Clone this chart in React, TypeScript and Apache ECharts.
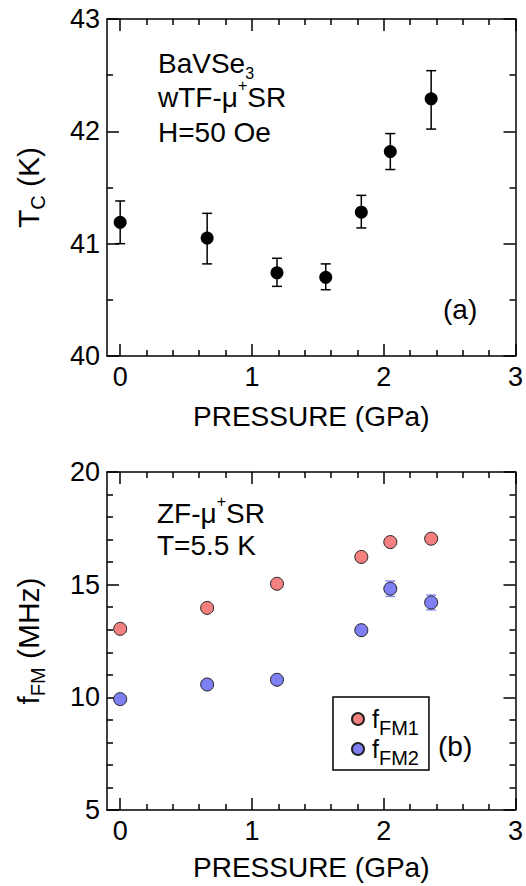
import React, { useEffect, useRef } from "react";
import * as echarts from "echarts";

// ---------- data ----------
const pressureTc = [0.0, 0.66, 1.19, 1.56, 1.83, 2.05, 2.36];
const tcValues = [41.19, 41.05, 40.74, 40.7, 41.28, 41.82, 42.29];
const tcErrLow = [41.0, 40.82, 40.62, 40.59, 41.14, 41.66, 42.02];
const tcErrHigh = [41.38, 41.27, 40.87, 40.82, 41.43, 41.98, 42.54];

const pressureFm = [0.0, 0.66, 1.19, 1.83, 2.05, 2.36];
const fm1Values = [13.04, 13.97, 15.04, 16.23, 16.89, 17.04];
const fm2Values = [9.92, 10.57, 10.78, 12.98, 14.82, 14.21];
const fm2ErrLow = [9.85, 10.5, 10.7, 12.9, 14.48, 13.88];
const fm2ErrHigh = [9.99, 10.64, 10.86, 13.06, 15.16, 14.54];

const xMajorTicks = [0, 1, 2, 3];
const xMinorTicks = [0.2, 0.4, 0.6, 0.8, 1.2, 1.4, 1.6, 1.8, 2.2, 2.4, 2.6, 2.8];

const FONT = '"Liberation Sans", Arial, Helvetica, sans-serif';
const BLACK = "#000";
const FM1_COLOR = "#f47f7f";
const FM2_COLOR = "#7f7ff4";
const FM2_ERR_COLOR = "#8c8cf6";

const lineStyle = { color: BLACK, width: 1.5 };

function xAxesFor(grid: number, nameGap: number) {
  const base = {
    type: "value",
    gridIndex: grid,
    min: -0.1,
    max: 3,
    splitLine: { show: false },
  };
  return [
    {
      ...base,
      position: "bottom",
      axisLine: { show: true, onZero: false, lineStyle },
      axisTick: { show: true, inside: true, length: 12, customValues: xMajorTicks, lineStyle },
      axisLabel: {
        show: true,
        customValues: xMajorTicks,
        margin: 7,
        fontSize: 27,
        lineHeight: 28,
        fontFamily: FONT,
        color: BLACK,
      },
      name: "PRESSURE (GPa)",
      nameLocation: "middle",
      nameGap,
      nameTextStyle: { fontSize: 28, lineHeight: 30, fontFamily: FONT, color: BLACK },
    },
    {
      ...base,
      position: "bottom",
      axisLine: { show: false },
      axisTick: { show: true, inside: true, length: 6, customValues: xMinorTicks, lineStyle },
      axisLabel: { show: false },
    },
    {
      ...base,
      position: "top",
      axisLine: { show: true, onZero: false, lineStyle },
      axisTick: { show: true, inside: true, length: 12, customValues: xMajorTicks, lineStyle },
      axisLabel: { show: false },
    },
    {
      ...base,
      position: "top",
      axisLine: { show: false },
      axisTick: { show: true, inside: true, length: 6, customValues: xMinorTicks, lineStyle },
      axisLabel: { show: false },
    },
  ];
}

function yAxesFor(
  grid: number,
  min: number,
  max: number,
  interval: number,
  minorSplit: number,
  name: string,
  rich: any
) {
  const base = {
    type: "value",
    gridIndex: grid,
    min,
    max,
    interval,
    splitLine: { show: false },
    minorTick: { show: true, splitNumber: minorSplit, length: 6, lineStyle },
    minorSplitLine: { show: false },
  };
  return [
    {
      ...base,
      position: "left",
      axisLine: { show: true, onZero: false, lineStyle },
      axisTick: { show: true, inside: true, length: 12, lineStyle },
      axisLabel: {
        show: true,
        margin: 7,
        fontSize: 27,
        lineHeight: 28,
        fontFamily: FONT,
        color: BLACK,
      },
      name,
      nameLocation: "middle",
      nameRotate: 90,
      nameGap: 63,
      nameTextStyle: { fontSize: 30, lineHeight: 32, fontFamily: FONT, color: BLACK, rich },
    },
    {
      ...base,
      position: "right",
      axisLine: { show: true, onZero: false, lineStyle },
      axisTick: { show: true, inside: true, length: 12, lineStyle },
      axisLabel: { show: false },
    },
  ];
}

const subRich = (main: number, sub: number, lh: number, pad: number) => ({
  m: { fontSize: main, lineHeight: lh, fontFamily: FONT, color: BLACK },
  s: { fontSize: sub, lineHeight: lh, fontFamily: FONT, color: BLACK, padding: [pad, 0, 0, 0] },
  p: { fontSize: 16, lineHeight: lh, fontFamily: FONT, color: BLACK, padding: [0, 0, 24, 0] },
});

function errorBarSeries(
  xIdx: number,
  yIdx: number,
  xs: number[],
  lo: number[],
  hi: number[],
  color: string,
  halfCap: number
) {
  return {
    type: "custom",
    xAxisIndex: xIdx,
    yAxisIndex: yIdx,
    z: 1,
    silent: true,
    data: xs.map((x, i) => [x, lo[i], hi[i]]),
    encode: { x: 0, y: [1, 2] },
    renderItem: (_params: any, api: any) => {
      const a = api.coord([api.value(0), api.value(1)]);
      const b = api.coord([api.value(0), api.value(2)]);
      const style = { stroke: color, lineWidth: 1.5, fill: "none" };
      return {
        type: "group",
        children: [
          { type: "line", shape: { x1: a[0], y1: a[1], x2: b[0], y2: b[1] }, style },
          { type: "line", shape: { x1: a[0] - halfCap, y1: a[1], x2: a[0] + halfCap, y2: a[1] }, style },
          { type: "line", shape: { x1: b[0] - halfCap, y1: b[1], x2: b[0] + halfCap, y2: b[1] }, style },
        ],
      };
    },
  };
}

export default function App() {
  const ref = useRef<HTMLDivElement>(null);

  useEffect(() => {
    document.body.style.margin = "0";
    if (!ref.current) return;
    const chart = echarts.init(ref.current, null, { renderer: "svg" });

    const option: any = {
      animation: false,
      backgroundColor: "#fff",
      grid: [
        { left: 102, top: 19, width: 415, height: 337 },
        { left: 102, top: 472, width: 415, height: 338 },
      ],
      xAxis: [...xAxesFor(0, 45), ...xAxesFor(1, 42)],
      yAxis: [
        ...yAxesFor(0, 40, 43, 1, 2, "{m|T}{s|C}{m| (K)}", subRich(30, 20, 32, 20)),
        ...yAxesFor(1, 5, 20, 5, 5, "{m|f}{s|FM}{m| (MHz)}", subRich(30, 20, 32, 20)),
      ],
      legend: {
        data: ["fFM1", "fFM2"],
        left: 333,
        top: 697,
        orient: "vertical",
        padding: [3, 10, 2, 18],
        itemGap: -8,
        itemWidth: 12,
        itemHeight: 12,
        borderColor: BLACK,
        borderWidth: 1.5,
        selectedMode: false,
        formatter: (name: string) =>
          name === "fFM1" ? "{f|f}{s|FM1}" : "{f|f}{s|FM2}",
        textStyle: {
          fontFamily: FONT,
          color: BLACK,
          rich: {
            f: { fontSize: 25, lineHeight: 28, fontFamily: FONT, color: BLACK, padding: [0, 0, 0, 3] },
            s: { fontSize: 20, lineHeight: 28, fontFamily: FONT, color: BLACK, padding: [18, 0, 0, 0] },
          },
        },
      },
      graphic: [
        {
          type: "text",
          x: 158,
          y: 46,
          silent: true,
          style: {
            text: "{m|BaVSe}{s|3}\n{m|wTF-μ}{p|+}{m|SR}\n{m|H=50 Oe}",
            rich: subRich(28, 16, 34.5, 20),
            fontFamily: FONT,
            fontSize: 28,
            fill: BLACK,
            verticalAlign: "top",
          },
        },
        {
          type: "text",
          x: 157,
          y: 497,
          silent: true,
          style: {
            text: "{m|ZF-μ}{p|+}{m|SR}\n{m|T=5.5 K}",
            rich: subRich(28, 16, 32, 20),
            fontFamily: FONT,
            fontSize: 28,
            fill: BLACK,
            verticalAlign: "top",
          },
        },
        {
          type: "text",
          x: 443,
          y: 309,
          silent: true,
          style: { text: "(a)", fontFamily: FONT, fontSize: 28, fill: BLACK, verticalAlign: "middle" },
        },
        {
          type: "text",
          x: 438,
          y: 746,
          silent: true,
          style: { text: "(b)", fontFamily: FONT, fontSize: 28, fill: BLACK, verticalAlign: "middle" },
        },
      ],
      series: [
        errorBarSeries(0, 0, pressureTc, tcErrLow, tcErrHigh, BLACK, 5),
        {
          type: "scatter",
          name: "Tc",
          xAxisIndex: 0,
          yAxisIndex: 0,
          z: 3,
          symbol: "circle",
          symbolSize: 13,
          itemStyle: { color: BLACK, opacity: 1 },
          data: pressureTc.map((x, i) => [x, tcValues[i]]),
        },
        errorBarSeries(4, 2, pressureFm, fm2ErrLow, fm2ErrHigh, FM2_ERR_COLOR, 5),
        {
          type: "scatter",
          name: "fFM1",
          xAxisIndex: 4,
          yAxisIndex: 2,
          z: 3,
          symbol: "circle",
          symbolSize: 13,
          itemStyle: { color: FM1_COLOR, borderColor: "#222", borderWidth: 1, opacity: 1 },
          data: pressureFm.map((x, i) => [x, fm1Values[i]]),
        },
        {
          type: "scatter",
          name: "fFM2",
          xAxisIndex: 4,
          yAxisIndex: 2,
          z: 3,
          symbol: "circle",
          symbolSize: 13,
          itemStyle: { color: FM2_COLOR, borderColor: "#222", borderWidth: 1, opacity: 1 },
          data: pressureFm.map((x, i) => [x, fm2Values[i]]),
        },
      ],
    };

    chart.setOption(option);
    return () => chart.dispose();
  }, []);

  return <div ref={ref} style={{ width: 526, height: 886 }} />;
}
